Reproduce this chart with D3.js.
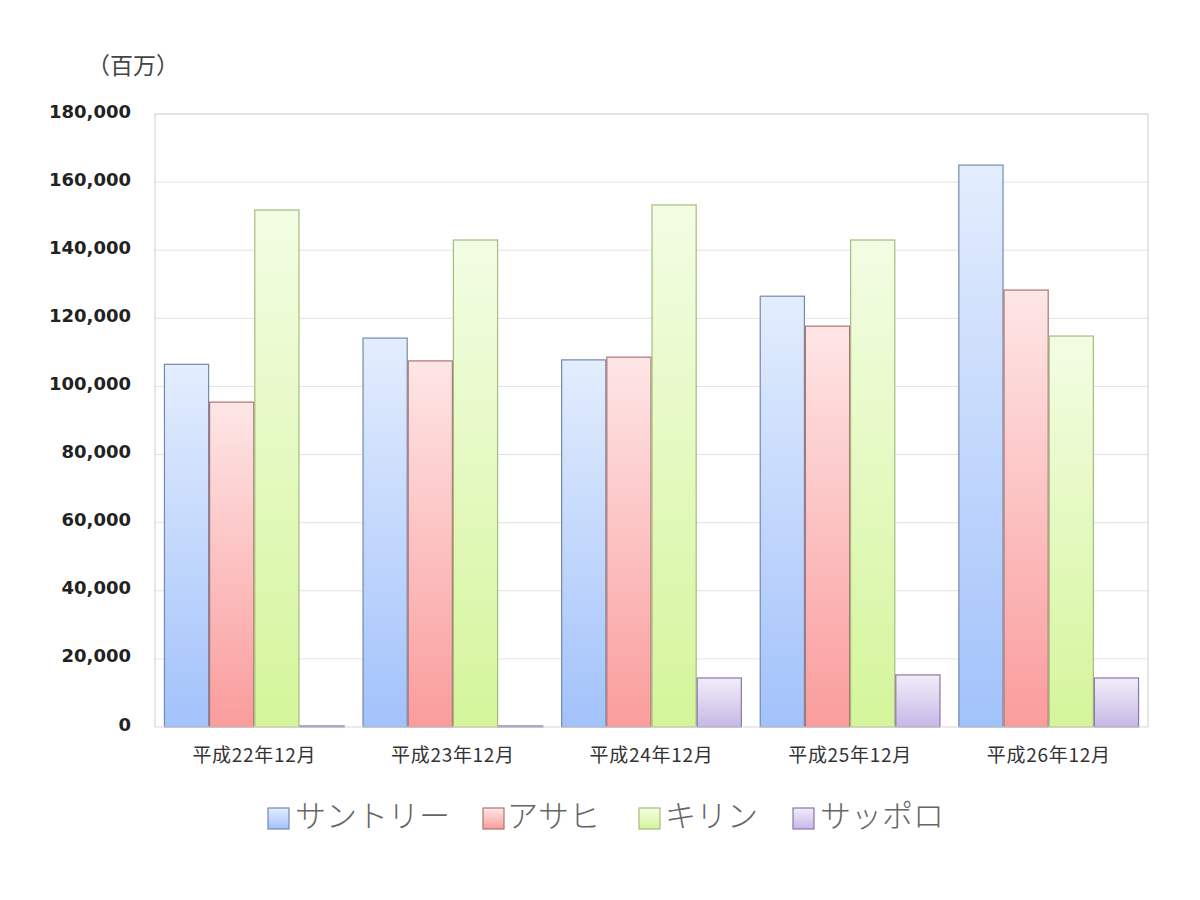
<!DOCTYPE html>
<html><head><meta charset="utf-8">
<script src="https://cdn.jsdelivr.net/npm/d3@7"></script>
<style>
body{margin:0;background:#fff;}
svg{display:block;}
</style></head>
<body>
<svg id="chart" width="1200" height="900"></svg>
<script>
const categories = ["平成22年12月","平成23年12月","平成24年12月","平成25年12月","平成26年12月"];
const seriesNames = ["サントリー","アサヒ","キリン","サッポロ"];
const suntory = [106500, 114200, 107800, 126500, 165000];
const asahi   = [95400, 107500, 108600, 117700, 128300];
const kirin   = [151800, 143000, 153300, 143000, 114800];
const sapporo = [300, 300, 14400, 15300, 14400];
const yTicks  = [0,20000,40000,60000,80000,100000,120000,140000,160000,180000];
const unitLabel = "（百万）";

const seriesValues = [suntory, asahi, kirin, sapporo];
const colors = [
  {top:"#e3edfd", bot:"#a2c2fb", stroke:"#7489ad"},
  {top:"#fee6e6", bot:"#fa9c9c", stroke:"#ac7474"},
  {top:"#f3fde4", bot:"#d4f59a", stroke:"#a5bc7c"},
  {top:"#f1edf9", bot:"#c7b8e6", stroke:"#8878a8"}
];

const svg = d3.select("#chart");
const m = {left:155, right:1148, top:114, bottom:727};

const defs = svg.append("defs");
colors.forEach((c,i)=>{
  const g = defs.append("linearGradient").attr("id","g"+i).attr("x1",0).attr("y1",0).attr("x2",0).attr("y2",1);
  g.append("stop").attr("offset","0%").attr("stop-color",c.top);
  g.append("stop").attr("offset","100%").attr("stop-color",c.bot);
});

const y = d3.scaleLinear().domain([0,180000]).range([m.bottom,m.top]);
const x0 = d3.scaleBand().domain(categories).range([m.left,m.right]).paddingInner(0.09).paddingOuter(0.045);
const x1 = d3.scaleBand().domain(d3.range(seriesNames.length)).range([0,x0.bandwidth()]).padding(0);

// gridlines
svg.append("g").selectAll("line").data(yTicks.filter(t=>t>0)).join("line")
  .attr("x1",m.left).attr("x2",m.right)
  .attr("y1",d=>y(d)).attr("y2",d=>y(d))
  .attr("stroke","#e2e2e2").attr("stroke-width",1);

// frame
svg.append("path")
  .attr("d",`M${m.left},${m.bottom}V${m.top}H${m.right}V${m.bottom}`)
  .attr("fill","none").attr("stroke","#d8d8d8").attr("stroke-width",1.2);

// y axis
const yAxis = svg.append("g").attr("transform",`translate(${m.left},0)`)
  .call(d3.axisLeft(y).tickValues(yTicks).tickSize(0).tickPadding(24).tickFormat(d3.format(",")));
yAxis.select(".domain").remove();
yAxis.selectAll("text").attr("font-family","DejaVu Sans, Verdana, sans-serif")
  .attr("font-weight","bold").attr("font-size",18).attr("fill","#222")
  .attr("dy","0.17em");

// bars
const groups = svg.append("g").selectAll("g").data(categories).join("g")
  .attr("transform",d=>`translate(${x0(d)},0)`);
groups.selectAll("rect").data((d,ci)=>seriesValues.map((s,si)=>({si, v:s[ci]}))).join("rect")
  .attr("x",d=>x1(d.si)+0.5)
  .attr("width",x1.bandwidth()-1)
  .attr("y",d=>y(d.v))
  .attr("height",d=>y(0)-y(d.v))
  .attr("fill",d=>`url(#g${d.si})`)
  .attr("stroke",d=>colors[d.si].stroke).attr("stroke-width",1.2);

// baseline
svg.append("line").attr("x1",m.left).attr("x2",m.right).attr("y1",m.bottom).attr("y2",m.bottom)
  .attr("stroke","#d8d8d8").attr("stroke-width",1.2);

// x axis
const xAxis = svg.append("g").attr("transform",`translate(0,${m.bottom})`)
  .call(d3.axisBottom(x0).tickSize(0).tickPadding(22));
xAxis.select(".domain").remove();
xAxis.selectAll("text").attr("font-family","Noto Sans CJK JP, sans-serif")
  .attr("font-size",19).attr("letter-spacing","0.7px").attr("fill","#333");

// unit label
svg.append("text").attr("x",133).attr("y",74).attr("text-anchor","middle")
  .attr("font-family","Noto Sans CJK JP, sans-serif").attr("font-size",23).attr("fill","#444")
  .text(unitLabel);

// legend
const legendX = [268, 483, 639, 793];
const legendTextX = [295, 507, 665, 820];
const leg = svg.append("g").selectAll("g").data(seriesNames).join("g");
leg.append("rect").attr("x",(d,i)=>legendX[i]).attr("y",808).attr("width",21).attr("height",21)
  .attr("fill",(d,i)=>`url(#g${i})`).attr("stroke",(d,i)=>colors[i].stroke).attr("stroke-width",1.2);
leg.append("text").attr("x",(d,i)=>legendTextX[i]).attr("y",827)
  .attr("font-family","Noto Sans CJK JP, sans-serif").attr("font-weight",300)
  .attr("font-size",31).attr("fill","#666")
  .text(d=>d);
</script>
</body></html>
